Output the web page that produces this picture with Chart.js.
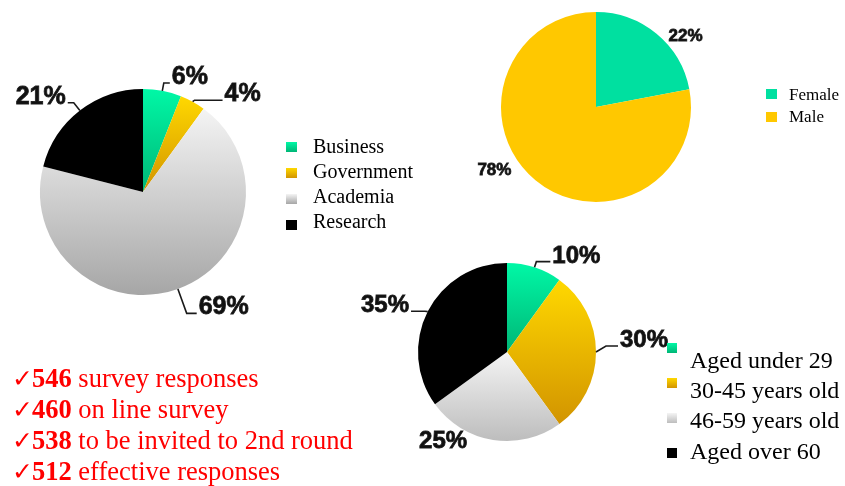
<!doctype html>
<html lang="en">
  <head>
    <meta charset="utf-8">
    <title>Survey respondents</title>
    <script src="https://cdn.jsdelivr.net/npm/chart.js"></script>
    <style>
      html, body { margin: 0; padding: 0; background: #fff; }
      #stage { position: relative; width: 845px; height: 486px; overflow: hidden; }
      #stage canvas { position: absolute; left: 0; top: 0; }
      .legend { position: absolute; font-family: "Liberation Serif", "Times New Roman", serif; color: #000; white-space: nowrap; }
      .swatch { position: absolute; }
      #notes { position: absolute; left: 12px; top: 363px; color: #ff0000; font-family: "Liberation Serif", "Times New Roman", serif; font-size: 26.5px; line-height: 31px; white-space: nowrap; }
      #notes .tick { font-family: "DejaVu Sans", sans-serif; font-size: 25px; margin-right: -1px; }
    </style>
  </head>
  <body>
<div id="stage">
  <canvas id="sector" width="845" height="486"></canvas>
  <canvas id="gender" width="845" height="486"></canvas>
  <canvas id="age" width="845" height="486"></canvas>
  <div id="notes"></div>
</div>

<script>
  // chart values
  const sectorLabels = ['Business', 'Government', 'Academia', 'Research'];
  const sectorShares = [6, 4, 69, 21];

  const genderLabels = ['Female', 'Male'];
  const genderShares = [22, 78];

  const ageLabels = ['Aged under 29', '30-45 years old', '46-59 years old', 'Aged over 60'];
  const ageShares = [10, 30, 25, 35];

  const surveyCounts = [546, 460, 538, 512];
  const surveyNotes = ['survey responses', 'on line survey', 'to be invited to 2nd round', 'effective responses'];

  // colours: [top, bottom] of a vertical gradient, or a flat colour
  const green = ['#00f8a6', '#00b676'];
  const gold = ['#ffd800', '#d29400'];
  const silver = ['#f4f4f4', '#a6a6a6'];
  const silverLight = ['#f4f4f4', '#bdbdbd'];

  const sectorColors = [green, gold, silver, '#000000'];
  const genderColors = ['#00e0a0', '#ffc800'];
  const ageColors = [green, gold, silverLight, '#000000'];

  // each slice gets its own top-to-bottom gradient
  function sliceGradient(palette, r) {
    return function (c) {
      const stops = palette[c.dataIndex];
      if (typeof stops === 'string') return stops;
      const area = c.chart.chartArea;
      if (!area) return stops[0];
      const data = c.dataset.data;
      const total = data.reduce((s, v) => s + v, 0);
      const before = data.slice(0, c.dataIndex).reduce((s, v) => s + v, 0);
      const a0 = -Math.PI / 2 + before / total * 2 * Math.PI;
      const a1 = a0 + data[c.dataIndex] / total * 2 * Math.PI;
      const cy = (area.top + area.bottom) / 2;
      let ys = [cy, cy + r * Math.sin(a0), cy + r * Math.sin(a1)];
      [-Math.PI / 2, Math.PI / 2, 3 * Math.PI / 2].forEach(t => {
        if (t >= a0 && t <= a1) ys.push(cy + r * Math.sin(t));
      });
      const g = c.chart.ctx.createLinearGradient(0, Math.min(...ys), 0, Math.max(...ys));
      g.addColorStop(0, stops[0]);
      g.addColorStop(1, stops[1]);
      return g;
    };
  }

  // percentage labels with leader lines
  const callouts = {
    id: 'callouts',
    afterDatasetsDraw(chart, args, opts) {
      const ctx = chart.ctx;
      const arcs = chart.getDatasetMeta(0).data;
      const values = chart.data.datasets[0].data;
      ctx.save();
      ctx.font = opts.font;
      ctx.fillStyle = '#111';
      ctx.strokeStyle = '#1a1a1a';
      arcs.forEach((arc, i) => {
        const p = arc.getProps(['x', 'y', 'startAngle', 'endAngle', 'outerRadius'], true);
        const a = (p.startAngle + p.endAngle) / 2;
        const [ext, run, dy, line] = opts.legs[i];
        const side = Math.cos(a) >= 0 ? 1 : -1;
        const x0 = p.x + Math.cos(a) * p.outerRadius;
        const y0 = p.y + Math.sin(a) * p.outerRadius;
        const x1 = p.x + Math.cos(a) * (p.outerRadius + ext);
        const y1 = p.y + Math.sin(a) * (p.outerRadius + ext) + dy;
        const x2 = x1 + side * run;
        if (line) {
          ctx.lineWidth = 1.6;
          ctx.beginPath();
          ctx.moveTo(x0, y0);
          ctx.lineTo(x1, y1);
          ctx.lineTo(x2, y1);
          ctx.stroke();
        }
        ctx.textAlign = side > 0 ? 'left' : 'right';
        ctx.textBaseline = line ? 'alphabetic' : 'middle';
        const tx = x2 + side * 2, ty = line ? y1 + 1 : y1;
        const txt = values[i] + '%';
        ctx.lineWidth = 0.8;
        ctx.fillText(txt, tx, ty);
        ctx.strokeText(txt, tx, ty);
      });
      ctx.restore();
    }
  };

  function makePie(id, labels, shares, palette, r, padding, font, legs) {
    return new Chart(document.getElementById(id), {
      type: 'pie',
      data: {
        labels: labels,
        datasets: [{
          data: shares,
          backgroundColor: sliceGradient(palette, r),
          borderWidth: 0,
          hoverOffset: 0
        }]
      },
      options: {
        responsive: false,
        animation: false,
        radius: r,
        layout: { padding: padding },
        events: [],
        plugins: {
          legend: { display: false },
          tooltip: { enabled: false },
          callouts: { font: font, legs: legs }
        }
      },
      plugins: [callouts]
    });
  }

  const bold = (px) => 'bold ' + px + 'px "Liberation Sans", Arial, sans-serif';

  makePie('sector', sectorLabels, sectorShares, sectorColors, 103,
    { left: 0, right: 559, top: 0, bottom: 102 }, bold(25),
    [[8, 6, 0, true], [4, 28, 2, true], [26, 10, 0, true], [10, 6, 0, true]]);

  makePie('gender', genderLabels, genderShares, genderColors, 95,
    { left: 486, right: 139, top: 0, bottom: 272 }, bold(17),
    [[0, 10, 3, false], [0, 22, -10, false]]);

  makePie('age', ageLabels, ageShares, ageColors, 89,
    { left: 407, right: 238, top: 252, bottom: 34 }, bold(24),
    [[6, 14, 0, true], [10, 12, -6, true], [0, 24, 1, false], [3, 14, 1, true]]);

  // html legends
  function swatchStyle(c) {
    return typeof c === 'string' ? c : 'linear-gradient(' + c[0] + ',' + c[1] + ')';
  }

  function makeLegend(labels, colors, o) {
    const stage = document.getElementById('stage');
    const box = document.createElement('div');
    box.className = 'legend';
    box.style.left = o.textX + 'px';
    box.style.fontSize = o.size + 'px';
    box.style.lineHeight = o.step + 'px';
    box.style.top = (o.baseline - (o.step - 1.107 * o.size) / 2 - 0.891 * o.size) + 'px';
    labels.forEach((lab, i) => {
      const row = document.createElement('div');
      row.textContent = lab;
      box.appendChild(row);
      const sw = document.createElement('div');
      sw.className = 'swatch';
      sw.style.left = o.boxX + 'px';
      sw.style.top = (o.boxY + i * o.boxStep) + 'px';
      sw.style.width = o.boxW + 'px';
      sw.style.height = o.boxH + 'px';
      sw.style.background = swatchStyle(colors[i]);
      stage.appendChild(sw);
    });
    stage.appendChild(box);
  }

  makeLegend(sectorLabels, sectorColors,
    { textX: 313, baseline: 153, size: 20, step: 25.3, boxX: 286, boxY: 142, boxStep: 26, boxW: 11, boxH: 10 });
  makeLegend(genderLabels, genderColors,
    { textX: 789, baseline: 101, size: 17, step: 22, boxX: 766, boxY: 89, boxStep: 23, boxW: 11, boxH: 10 });
  makeLegend(ageLabels, ageColors,
    { textX: 690, baseline: 368, size: 24, step: 30.3, boxX: 667, boxY: 343, boxStep: 35, boxW: 10, boxH: 10 });

  // red notes
  const notes = document.getElementById('notes');
  surveyCounts.forEach((n, i) => {
    const row = document.createElement('div');
    row.innerHTML = '<span class="tick">\u2713</span><b>' + n + '</b> ' + surveyNotes[i];
    notes.appendChild(row);
  });
</script>
  </body>
</html>
